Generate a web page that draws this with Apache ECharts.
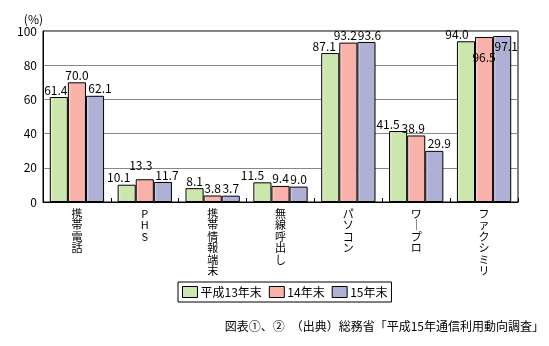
<!DOCTYPE html>
<html>
<head>
<meta charset="utf-8">
<script src="https://cdn.jsdelivr.net/npm/echarts@6/dist/echarts.min.js"></script>
<style>
  html, body { margin: 0; padding: 0; background: #fff; }
  #chart { width: 549px; height: 346px; }
</style>
</head>
<body>
<div id="chart"></div>
<script>
// 情報通信機器の世帯保有率（%）
const categories = ['携帯電話', 'PHS', '携帯情報端末', '無線呼出し', 'パソコン', 'ワープロ', 'ファクシミリ'];
const seriesNames = ['平成13年末', '14年末', '15年末'];
const valuesH13 = [61.4, 10.1, 8.1, 11.5, 87.1, 41.5, 94.0];
const valuesH14 = [70.0, 13.3, 3.8, 9.4, 93.2, 38.9, 96.5];
const valuesH15 = [62.1, 11.7, 3.7, 9.0, 93.6, 29.9, 97.1];
const yTicks = [0, 20, 40, 60, 80, 100];

const FONT = '"Noto Sans CJK JP", "Noto Sans", sans-serif';
const baseColors = ['#cbe7ad', '#f9b2aa', '#aeb0d5'];
const lightColors = ['#f2fbe8', '#fde6e2', '#e6e7f5'];

// value-label nudges [dx, dy] in px so that neighbouring labels don't collide
const labelNudge = [
  { 0: [-3, 0], 1: [-8, 0], 3: [-10, 0], 4: [-6, 0], 5: [-10, 0], 6: [-9, 0] },
  { 1: [-4, -7], 4: [-3, 0], 5: [-3, 0], 6: [0, 27] },
  { 0: [5, 0], 1: [4, 0], 4: [3, 0], 5: [5, 0], 6: [4, 17] }
];

function barFill(i) {
  return new echarts.graphic.LinearGradient(0, 0, 1, 0, [
    { offset: 0, color: lightColors[i] },
    { offset: 0.18, color: baseColors[i] },
    { offset: 1, color: baseColors[i] }
  ]);
}

function makeSeries(name, values, i) {
  return {
    name: name,
    type: 'bar',
    barGap: '0%',
    barCategoryGap: '20%',
    itemStyle: { color: barFill(i), borderColor: '#000', borderWidth: 1 },
    label: {
      show: true,
      position: 'top',
      distance: 1,
      color: '#000',
      fontFamily: FONT,
      fontSize: 12,
      formatter: p => p.value.toFixed(1)
    },
    data: values.map((v, j) => {
      const d = labelNudge[i][j];
      return d ? { value: v, label: { offset: d } } : v;
    })
  };
}

// stack characters for vertical category names; dash-like marks become upright bars
function verticalText(v) {
  return Array.from(v).map(c => /[\u30FC\u2015\u2014\u2010\uFF0D\-]/.test(c) ? '\u2502' : c).join('\n');
}

const chart = echarts.init(document.getElementById('chart'), null, { renderer: 'canvas' });
chart.setOption({
  animation: false,
  backgroundColor: '#fff',
  textStyle: { fontFamily: FONT },
  grid: {
    left: 43, right: 31, top: 31, bottom: 144,
    show: true, borderColor: '#000', borderWidth: 1, backgroundColor: 'transparent'
  },
  legend: {
    data: seriesNames.map((n, i) => ({
      name: n,
      itemStyle: { color: baseColors[i], borderColor: '#000', borderWidth: 1 }
    })),
    left: 178, top: 282,
    itemWidth: 15, itemHeight: 11, itemGap: 7,
    icon: 'rect',
    padding: [4, 4, 4, 4],
    borderColor: '#000', borderWidth: 1,
    textStyle: { fontFamily: FONT, fontSize: 12, color: '#000', padding: [0, 0, 0, -2] }
  },
  xAxis: {
    type: 'category',
    data: categories,
    axisLine: { lineStyle: { color: '#000', width: 1 } },
    axisTick: { show: true, inside: true, length: 4, lineStyle: { color: '#000' } },
    axisLabel: {
      interval: 0,
      margin: 6,
      color: '#000',
      fontFamily: FONT,
      fontSize: 11,
      lineHeight: 11.5,
      formatter: verticalText
    }
  },
  yAxis: {
    type: 'value',
    min: yTicks[0],
    max: yTicks[yTicks.length - 1],
    interval: 20,
    name: '(%)',
    nameLocation: 'end',
    nameGap: 6,
    nameTextStyle: { color: '#000', fontFamily: FONT, fontSize: 12, align: 'right' },
    axisLine: { show: true, lineStyle: { color: '#000' } },
    axisTick: { show: false },
    axisLabel: { color: '#000', fontFamily: FONT, fontSize: 12, margin: 6 },
    splitLine: { lineStyle: { color: '#888', width: 1 } }
  },
  series: [
    makeSeries(seriesNames[0], valuesH13, 0),
    makeSeries(seriesNames[1], valuesH14, 1),
    makeSeries(seriesNames[2], valuesH15, 2)
  ],
  graphic: [{
    type: 'text',
    right: 5,
    top: 320,
    style: {
      text: '図表①、②　（出典）総務省「平成15年通信利用動向調査」',
      fill: '#000',
      font: '12px ' + FONT
    }
  }]
});
</script>
</body>
</html>
